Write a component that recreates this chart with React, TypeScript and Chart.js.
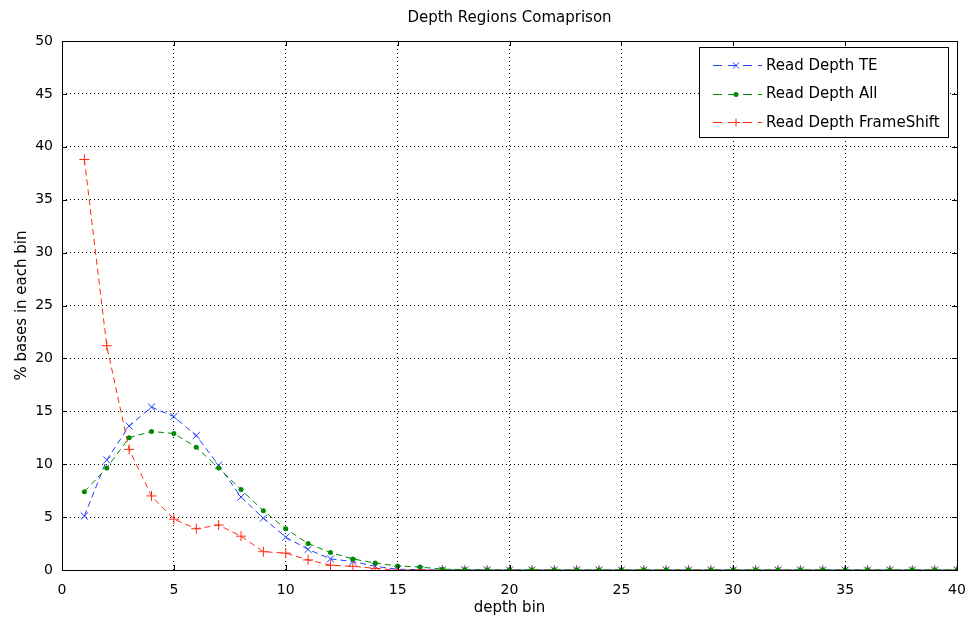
import React, { useEffect, useRef } from 'react';
import { Chart, registerables } from 'chart.js';

Chart.register(...registerables);

const depthBins = [1, 2, 3, 4, 5, 6, 7, 8, 9, 10, 11, 12, 13, 14, 15, 16, 17, 18, 19, 20, 21, 22, 23, 24, 25, 26, 27, 28, 29, 30, 31, 32, 33, 34, 35, 36, 37, 38, 39, 40];

const readDepthTE = [5.1, 10.4, 13.6, 15.4, 14.5, 12.7, 9.9, 6.9, 4.9, 3.1, 1.95, 1.05, 0.8, 0.35, 0.07, 0.03, 0.01, 0.01, 0, 0, 0, 0, 0, 0, 0, 0, 0, 0, 0, 0, 0, 0, 0, 0, 0, 0, 0, 0, 0, 0];

const readDepthAll = [7.4, 9.65, 12.5, 13.1, 12.9, 11.6, 9.65, 7.6, 5.6, 3.9, 2.5, 1.65, 1.05, 0.65, 0.38, 0.28, 0.08, 0.04, 0.03, 0.02, 0.02, 0.02, 0.02, 0.02, 0.02, 0.02, 0.02, 0.02, 0.02, 0.02, 0.02, 0.02, 0.02, 0.02, 0.02, 0.02, 0.02, 0.02, 0.02, 0.02];

const readDepthFrameShift = [38.8, 21.2, 11.4, 7.0, 4.8, 3.9, 4.25, 3.2, 1.73, 1.6, 0.95, 0.45, 0.35, 0.15, 0, 0, 0, 0, 0, 0, 0, 0, 0, 0, 0, 0, 0, 0, 0, 0, 0, 0, 0, 0, 0, 0, 0, 0, 0, 0];

const seriesLabels = ['Read Depth TE', 'Read Depth All', 'Read Depth FrameShift'];
const chartTitle = 'Depth Regions Comaprison';
const xTitle = 'depth bin';
const yTitle = '% bases in each bin';
const xRange = [0, 40];
const yRange = [0, 50];
const tickStep = 5;

const FONT = 'DejaVu Sans';
const BLUE = '#1f3cff';
const GREEN = '#008a00';
const RED = '#ff2a10';

function drawMarker(ctx: CanvasRenderingContext2D, style: string, x: number, y: number, r: number, color: string) {
  ctx.save();
  ctx.strokeStyle = color;
  ctx.fillStyle = color;
  ctx.lineWidth = 1;
  ctx.setLineDash([]);
  ctx.beginPath();
  if (style === 'cross') {
    ctx.moveTo(x - r, y);
    ctx.lineTo(x + r, y);
    ctx.moveTo(x, y - r);
    ctx.lineTo(x, y + r);
    ctx.stroke();
  } else if (style === 'crossRot') {
    const d = r * 0.75;
    ctx.moveTo(x - d, y - d);
    ctx.lineTo(x + d, y + d);
    ctx.moveTo(x - d, y + d);
    ctx.lineTo(x + d, y - d);
    ctx.stroke();
  } else {
    ctx.arc(x, y, r, 0, Math.PI * 2);
    ctx.fill();
  }
  ctx.restore();
}

const framePlugin = {
  id: 'frameAndLegend',
  afterDraw(chart: any) {
    const { ctx, chartArea } = chart;
    const { left, right, top, bottom } = chartArea;
    const xs = chart.scales.x;
    const ys = chart.scales.y;
    ctx.save();
    ctx.strokeStyle = '#000';
    ctx.lineWidth = 1;
    ctx.setLineDash([]);
    // box
    ctx.strokeRect(Math.round(left) + 0.5, Math.round(top) + 0.5, Math.round(right - left), Math.round(bottom - top));
    // inner ticks
    const tl = 5;
    ctx.beginPath();
    xs.ticks.forEach((t: any) => {
      const px = Math.round(xs.getPixelForValue(t.value)) + 0.5;
      ctx.moveTo(px, bottom);
      ctx.lineTo(px, bottom - tl);
      ctx.moveTo(px, top);
      ctx.lineTo(px, top + tl);
    });
    ys.ticks.forEach((t: any) => {
      const py = Math.round(ys.getPixelForValue(t.value)) + 0.5;
      ctx.moveTo(left, py);
      ctx.lineTo(left + tl, py);
      ctx.moveTo(right, py);
      ctx.lineTo(right - tl, py);
    });
    ctx.stroke();

    // title, centred over the plot area
    ctx.fillStyle = '#000';
    ctx.font = `15px "${FONT}"`;
    ctx.textAlign = 'center';
    ctx.textBaseline = 'middle';
    ctx.fillText(chartTitle, (left + right) / 2, 18);

    // legend
    const lx = right - 258;
    const ly = top + 6;
    const lw = 249;
    const lh = 90;
    ctx.fillStyle = '#fff';
    ctx.fillRect(lx, ly, lw, lh);
    ctx.strokeStyle = '#000';
    ctx.strokeRect(Math.round(lx) + 0.5, Math.round(ly) + 0.5, lw, lh);
    ctx.font = `15px "${FONT}"`;
    ctx.textBaseline = 'middle';
    ctx.textAlign = 'left';
    chart.data.datasets.forEach((ds: any) => {
      const idx = ds.legendIndex;
      const y = ly + 18 + idx * 28.5;
      ctx.strokeStyle = ds.borderColor;
      ctx.lineWidth = 1;
      ctx.setLineDash([9, 6]);
      ctx.beginPath();
      ctx.moveTo(lx + 14, Math.round(y) + 0.5);
      ctx.lineTo(lx + 63, Math.round(y) + 0.5);
      ctx.stroke();
      drawMarker(ctx, ds.pointStyle, lx + 37, Math.round(y) + 0.5, ds.pointStyle === 'circle' ? 2.5 : 4, ds.borderColor);
      ctx.fillStyle = '#000';
      ctx.fillText(ds.label, lx + 67, y + 1);
    });
    ctx.restore();
  },
};

export default function App() {
  const ref = useRef<HTMLCanvasElement | null>(null);

  useEffect(() => {
    document.body.style.margin = '0';
    const canvas = ref.current;
    if (!canvas) return;
    const toPts = (arr: number[]) => depthBins.map((x, i) => ({ x, y: arr[i] }));
    const tickFont = { family: FONT, size: 14 };
    const titleFont = { family: FONT, size: 15, weight: 'normal' as const };
    const chart = new Chart(canvas, {
      type: 'line',
      data: {
        datasets: [
          {
            label: seriesLabels[0],
            legendIndex: 0,
            data: toPts(readDepthTE),
            borderColor: BLUE,
            backgroundColor: BLUE,
            borderWidth: 1,
            borderDash: [6, 4],
            pointStyle: 'crossRot',
            pointRadius: 5,
            pointBorderWidth: 1,
            pointBorderColor: BLUE,
            fill: false,
            tension: 0,
            order: 2,
          } as any,
          {
            label: seriesLabels[1],
            legendIndex: 1,
            data: toPts(readDepthAll),
            borderColor: GREEN,
            backgroundColor: GREEN,
            borderWidth: 1,
            borderDash: [6, 4],
            pointStyle: 'circle',
            pointRadius: 2.5,
            pointBorderWidth: 0,
            pointBackgroundColor: GREEN,
            fill: false,
            tension: 0,
            order: 0,
          } as any,
          {
            label: seriesLabels[2],
            legendIndex: 2,
            data: toPts(readDepthFrameShift),
            borderColor: RED,
            backgroundColor: RED,
            borderWidth: 1,
            borderDash: [6, 4],
            pointStyle: 'cross',
            pointRadius: 5,
            pointBorderWidth: 1,
            pointBorderColor: RED,
            fill: false,
            tension: 0,
            order: 1,
          } as any,
        ],
      },
      options: {
        animation: false,
        responsive: false,
        events: [],
        layout: { padding: { left: 0, right: 9, top: 41, bottom: 0 } },
        plugins: {
          legend: { display: false },
          tooltip: { enabled: false },
          title: { display: false },
        },
        scales: {
          x: {
            type: 'linear',
            min: xRange[0],
            max: xRange[1],
            ticks: { stepSize: tickStep, color: '#000', font: tickFont, padding: 12, maxRotation: 0 },
            grid: { color: '#000', lineWidth: 1, drawTicks: false },
            border: { display: false, dash: [1, 3] },
            title: { display: true, text: xTitle, color: '#000', font: titleFont, padding: { top: 0, bottom: 5 } },
            afterFit: (s: any) => { s.height = 52; s.paddingLeft = 0; s.paddingRight = 0; },
          },
          y: {
            type: 'linear',
            min: yRange[0],
            max: yRange[1],
            ticks: { stepSize: tickStep, color: '#000', font: tickFont, padding: 9 },
            grid: { color: '#000', lineWidth: 1, drawTicks: false },
            border: { display: false, dash: [1, 3] },
            title: { display: true, text: yTitle, color: '#000', font: titleFont, padding: { top: 13, bottom: 0 } },
            afterFit: (s: any) => { s.width = 62; s.paddingTop = 0; s.paddingBottom = 0; },
          },
        },
      } as any,
      plugins: [framePlugin],
    });
    return () => chart.destroy();
  }, []);

  return (
    <div style={{ width: 966, height: 622, background: '#fff' }}>
      <canvas ref={ref} width={966} height={622} style={{ display: 'block' }} />
    </div>
  );
}
